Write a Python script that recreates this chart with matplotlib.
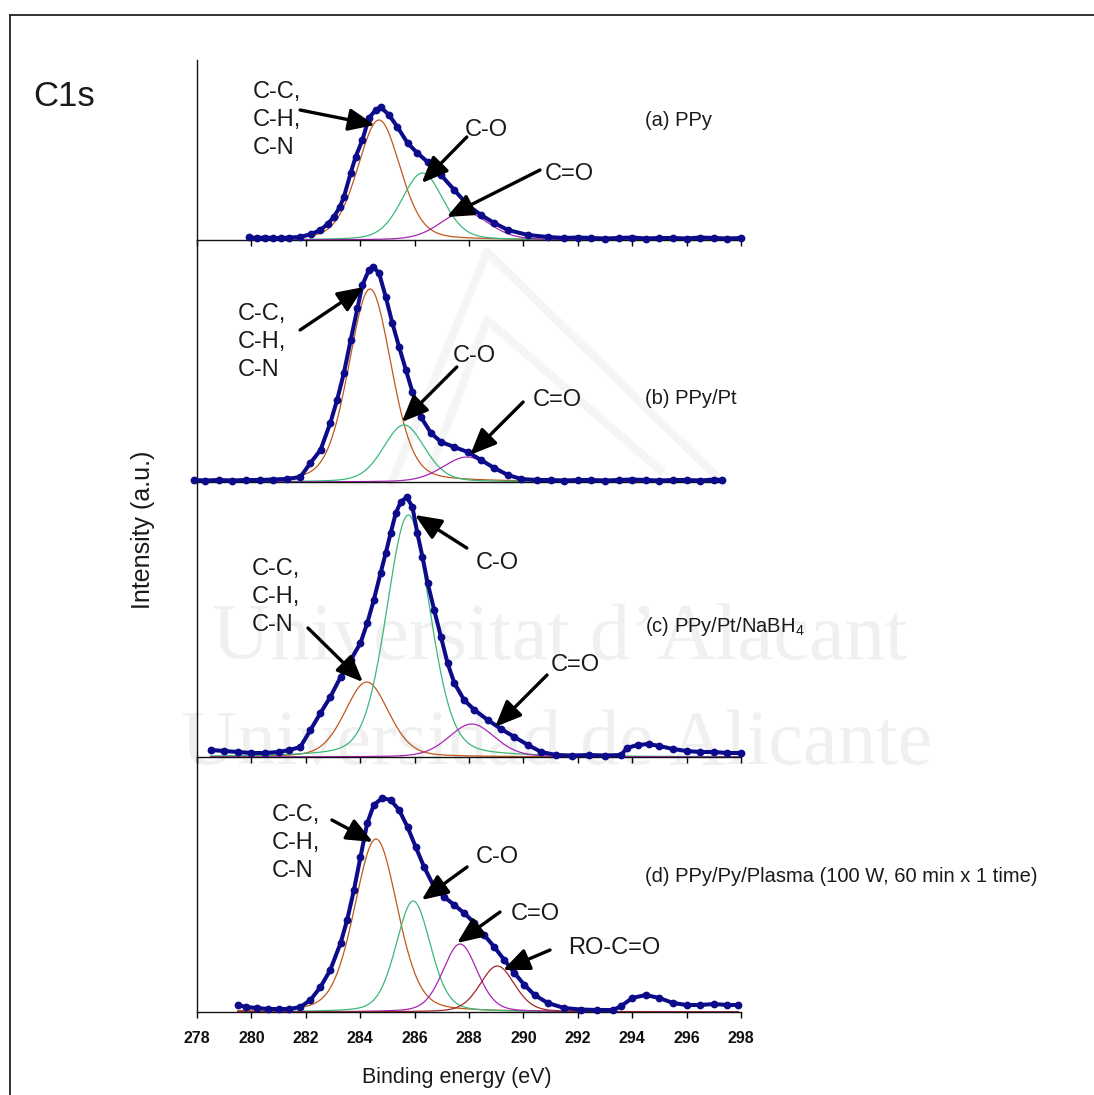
import numpy as np
import matplotlib.pyplot as plt
from matplotlib.lines import Line2D

plt.rcParams["font.family"] = ["Liberation Sans", "DejaVu Sans"]
plt.rcParams["mathtext.fontset"] = "custom"
plt.rcParams["mathtext.rm"] = "Liberation Sans"

W, H = 1094, 1095

# measured C1s spectra: binding energy (eV) and intensity (a.u.)
energy_a = [279.9, 280.2, 280.5, 280.8, 281.1, 281.4, 281.8, 282.2, 282.54, 282.8,
            283.03, 283.25, 283.4, 283.65, 283.83, 284.08, 284.32, 284.57, 284.75, 285.06,
            285.37, 285.74, 286.1, 286.48, 286.97, 287.46, 287.95, 288.44, 288.93, 289.43,
            290.17, 290.9, 291.5, 292.0, 292.5, 293.0, 293.5, 294.0, 294.5, 295.0,
            295.5, 296.0, 296.5, 297.0, 297.5, 298.0]
counts_a = [3, 2, 2.5, 2, 2, 2.5, 3, 6, 10, 16,
            23, 33, 43, 67, 83, 100, 122, 130, 133, 125,
            113, 97, 87, 78, 65, 50, 35, 25, 17, 10,
            5, 3, 2, 2.5, 2, 1.5, 2, 2.5, 1.5, 2,
            2, 1.5, 2.5, 2, 1.5, 2]

energy_b = [277.9, 278.3, 278.8, 279.3, 279.8, 280.3, 280.8, 281.3, 281.8, 282.17,
            282.54, 282.9, 283.15, 283.4, 283.65, 283.9, 284.08, 284.32, 284.48, 284.69,
            284.94, 285.18, 285.43, 285.68, 285.92, 286.23, 286.6, 286.97, 287.46, 287.95,
            288.44, 288.93, 289.43, 289.92, 290.5, 291.0, 291.5, 292.0, 292.5, 293.0,
            293.5, 294.0, 294.5, 295.0, 295.5, 296.0, 296.5, 297.0, 297.3]
counts_b = [2, 1.5, 2, 1.5, 2, 2, 2.5, 3, 5, 19,
            32, 59, 82, 109, 142, 174, 197, 212, 215, 209,
            185, 159, 135, 112, 90, 65, 49, 40, 35, 30,
            22, 14, 7, 3, 2, 2, 1.5, 2, 2, 1.5,
            2, 2.5, 2, 1.5, 2, 2, 1.5, 2.5, 2]

energy_c = [278.5, 279.0, 279.5, 280.0, 280.5, 281.0, 281.4, 281.8, 282.17, 282.54,
            282.9, 283.28, 283.65, 284.01, 284.26, 284.5, 284.75, 284.94, 285.12, 285.31,
            285.49, 285.71, 285.92, 286.1, 286.29, 286.48, 286.72, 286.97, 287.21, 287.46,
            287.82, 288.2, 288.69, 289.18, 289.67, 290.17, 290.66, 291.2, 291.8, 292.4,
            293.0, 293.6, 293.8, 294.2, 294.6, 295.0, 295.5, 296.0, 296.5, 297.0,
            297.5, 298.0]
counts_c = [7, 6, 5, 4, 4, 5, 7, 10, 27, 44,
            60, 80, 97, 114, 134, 157, 184, 204, 224, 244,
            255, 260, 250, 224, 200, 174, 147, 120, 94, 74,
            57, 47, 37, 28, 20, 12, 5, 2, 1.5, 2,
            1.5, 2, 9, 12, 13, 11, 8, 6, 5, 5,
            4, 4]

energy_d = [279.5, 279.8, 280.2, 280.6, 281.0, 281.4, 281.8, 282.17, 282.54, 282.9,
            283.28, 283.52, 283.77, 284.01, 284.26, 284.5, 284.81, 285.12, 285.43, 285.74,
            286.04, 286.35, 286.72, 287.09, 287.46, 287.82, 288.2, 288.56, 288.93, 289.3,
            289.67, 290.04, 290.41, 290.9, 291.5, 292.1, 292.7, 293.3, 293.6, 294.0,
            294.5, 295.0, 295.5, 296.0, 296.5, 297.0, 297.5, 297.9]
counts_d = [7, 5, 4, 3, 3, 3, 5, 12, 25, 42,
            69, 92, 122, 155, 189, 207, 214, 212, 202, 185,
            165, 145, 125, 115, 107, 99, 89, 77, 65, 52,
            39, 27, 17, 9, 4, 2.5, 2, 2, 6, 14,
            17, 14, 9, 7, 7, 8, 7, 7]

# fitted components: centre (eV), height (a.u.), FWHM (eV)
species_a = ["C-C", "C-O", "C=O"]
centre_a = [284.69, 286.29, 287.83]
height_a = [120, 67, 28]
fwhm_a = [1.85, 1.8, 2.1]

species_b = ["C-C", "C-O", "C=O"]
centre_b = [284.36, 285.61, 287.92]
height_b = [193, 57, 25]
fwhm_b = [1.85, 1.8, 2.1]

species_c = ["C-C", "C-O", "C=O"]
centre_c = [284.24, 285.77, 288.10]
height_c = [75, 242, 33]
fwhm_c = [1.9, 1.9, 2.0]

species_d = ["C-C", "C-O", "C=O", "RO-C=O"]
centre_d = [284.58, 285.95, 287.67, 289.04]
height_d = [173, 111, 68, 46]
fwhm_d = [1.87, 1.5, 1.5, 1.5]

comp_colors = {"C-C": "#c0581c", "C-O": "#3cb878", "C=O": "#a826b4", "RO-C=O": "#a02828"}
data_color = "#0c0c8a"
ticks = list(range(278, 299, 2))


def gl_peak(x, c, h, w, mix=0.25):
    g = np.exp(-4 * np.log(2) * ((x - c) / w) ** 2)
    lor = 1 / (1 + 4 * ((x - c) / w) ** 2)
    return h * ((1 - mix) * g + mix * lor)


def px(x, y):
    return x / W, 1 - y / H


fig = plt.figure(figsize=(W / 100, H / 100), dpi=100)

# watermark
fig.text(*px(560, 640), "Universitat d\u2019Alacant", fontsize=58, color="#f0f0f0",
         family="Liberation Serif", ha="center", va="center", zorder=-5)
fig.text(*px(557, 745), "Universidad de Alicante", fontsize=56, color="#f0f0f0",
         family="Liberation Serif", ha="center", va="center", zorder=-5)
for tri in ([(392, 482), (487, 252), (722, 482)], [(430, 470), (487, 320), (660, 470)]):
    xs = [p[0] / W for p in tri]
    ys = [1 - p[1] / H for p in tri]
    fig.add_artist(Line2D(xs, ys, color="#f5f5f5", lw=6, zorder=-5))

# outer frame (right and bottom edges fall outside the picture)
fig.add_artist(Line2D([10 / W, 1.01], [1 - 15 / H, 1 - 15 / H], color="#222222", lw=1.3))
fig.add_artist(Line2D([10 / W, 10 / W], [1 - 15 / H, -0.01], color="#222222", lw=1.3))


def add_panel(x0, y0, x1, y1, xlim, energy, counts, centre, height, fwhm, species,
              show_ticks=True):
    ax = fig.add_axes([x0 / W, 1 - y1 / H, (x1 - x0) / W, (y1 - y0) / H])
    ax.set_facecolor("none")
    ax.set_xlim(*xlim)
    ax.set_ylim(0, y1 - y0)
    for s in ("top", "right"):
        ax.spines[s].set_visible(False)
    for s in ("left", "bottom"):
        ax.spines[s].set_linewidth(1.0)
        ax.spines[s].set_color("#111111")
    ax.set_yticks([])
    if show_ticks:
        ax.set_xticks(ticks)
        ax.tick_params(axis="x", direction="out", length=4, width=1.0, labelbottom=False)
    else:
        ax.set_xticks([])
    xx = np.linspace(min(energy), max(energy), 800)
    for c, h, w, name in zip(centre, height, fwhm, species):
        ax.plot(xx, gl_peak(xx, c, h, w), color=comp_colors[name], lw=0.9, zorder=2)
    ax.plot(energy, counts, color=data_color, lw=2.9, marker="o", ms=5.6,
            markeredgewidth=0, zorder=3, clip_on=False)
    return ax


ax_a = add_panel(197, 60, 741, 240, (278, 298), energy_a, counts_a,
                 centre_a, height_a, fwhm_a, species_a)
ax_b = add_panel(192, 240, 722, 482, (277.816, 297.30), energy_b, counts_b,
                 centre_b, height_b, fwhm_b, species_b, show_ticks=False)
ax_b.spines["left"].set_visible(False)
ax_b.axvline(278, color="#111111", lw=1.0)
ax_c = add_panel(197, 482, 741, 757, (278, 298), energy_c, counts_c,
                 centre_c, height_c, fwhm_c, species_c)
ax_d = add_panel(197, 757, 741, 1012, (278, 298), energy_d, counts_d,
                 centre_d, height_d, fwhm_d, species_d)
ax_d.tick_params(axis="x", labelbottom=True, pad=10)
ax_d.set_xticklabels([str(t) for t in ticks], fontweight="bold", fontsize=11.5,
                     color="#111111")

lab_kw = dict(fontsize=17, color="#1a1a1a")
arrow_kw = dict(arrowstyle="-|>,head_length=0.8,head_width=0.34", lw=2.4,
                color="black", shrinkA=0, shrinkB=0, mutation_scale=20)


def arrow(ax, tail, tip):
    ax.annotate("", xy=tip, xytext=tail, arrowprops=arrow_kw)


cch = "C-C,\nC-H,\nC-N"
ls = 1.38

# (a)
ax_a.text(280.06, 120, cch, ha="left", va="center", linespacing=ls, **lab_kw)
arrow(ax_a, (281.79, 130), (284.54, 115))
ax_a.text(288.62, 110, "C-O", ha="center", va="center", **lab_kw)
arrow(ax_a, (287.92, 103), (286.26, 57))
ax_a.text(291.68, 66, "C=O", ha="center", va="center", **lab_kw)
arrow(ax_a, (290.61, 70), (287.18, 23))
ax_a.text(294.47, 120, "(a) PPy", ha="left", va="center", fontsize=14.5, color="#1a1a1a")

# (b)
ax_b.text(279.51, 140, cch, ha="left", va="center", linespacing=ls, **lab_kw)
arrow(ax_b, (281.79, 152), (284.14, 195))
ax_b.text(288.18, 126, "C-O", ha="center", va="center", **lab_kw)
arrow(ax_b, (287.55, 115), (285.53, 60))
ax_b.text(291.24, 82, "C=O", ha="center", va="center", **lab_kw)
arrow(ax_b, (289.99, 80), (288.04, 27))
ax_b.text(294.47, 84, "(b) PPy/Pt", ha="left", va="center", fontsize=14.5, color="#1a1a1a")

# (c)
ax_c.text(289.03, 194, "C-O", ha="center", va="center", **lab_kw)
arrow(ax_c, (287.92, 209), (286.01, 242))
ax_c.text(280.02, 160, cch, ha="left", va="center", linespacing=ls, **lab_kw)
arrow(ax_c, (282.08, 129), (284.10, 75))
ax_c.text(291.90, 92, "C=O", ha="center", va="center", **lab_kw)
arrow(ax_c, (290.87, 82), (288.96, 30))
ax_c.text(294.47, 130, r"(c) PPy/Pt/NaBH$_\mathregular{4}$", ha="left", va="center",
          fontsize=14.5, color="#1a1a1a")

# (d)
ax_d.text(280.76, 169, cch, ha="left", va="center", linespacing=ls, **lab_kw)
arrow(ax_d, (282.96, 192), (284.47, 170))
ax_d.text(289.03, 155, "C-O", ha="center", va="center", **lab_kw)
arrow(ax_d, (287.93, 145), (286.26, 112))
ax_d.text(290.43, 98, "C=O", ha="center", va="center", **lab_kw)
arrow(ax_d, (289.14, 100), (287.56, 69))
ax_d.text(293.33, 64, "RO-C=O", ha="center", va="center", **lab_kw)
arrow(ax_d, (290.98, 62), (289.25, 42))
ax_d.text(294.47, 135, "(d) PPy/Py/Plasma (100 W, 60 min x 1 time)", ha="left",
          va="center", fontsize=14.5, color="#1a1a1a")

fig.text(*px(33, 96), "C1s", fontsize=25, color="#1a1a1a", ha="left", va="center")
fig.text(*px(143, 530), "Intensity (a.u.)", fontsize=18, color="#1a1a1a",
         rotation=90, ha="center", va="center")
fig.text(*px(457, 1077), "Binding energy (eV)", fontsize=15.5, color="#1a1a1a",
         ha="center", va="center")

fig.savefig("out.png", dpi=100)
